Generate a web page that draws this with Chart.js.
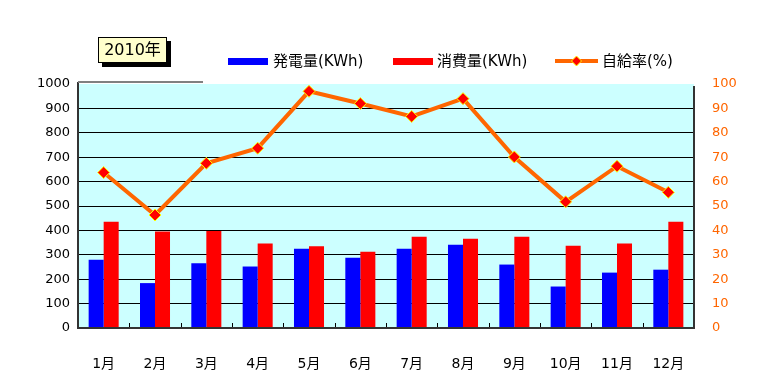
<!DOCTYPE html>
<html>
<head>
<meta charset="utf-8">
<script src="https://cdn.jsdelivr.net/npm/chart.js@4"></script>
<style>
  html, body { margin: 0; padding: 0; background: #fff; }
</style>
</head>
<body>
<canvas id="myChart" width="783" height="374"></canvas>
<script>
// data
const months = ['1月', '2月', '3月', '4月', '5月', '6月', '7月', '8月', '9月', '10月', '11月', '12月'];
const generation = [280, 184, 265, 252, 325, 288, 325, 341, 260, 170, 227, 239];   // 発電量(KWh)
const consumption = [435, 396, 398, 346, 335, 313, 374, 366, 374, 337, 346, 435];  // 消費量(KWh)
const selfRate = [63.7, 46.3, 67.5, 73.7, 97.0, 92.0, 86.7, 94.0, 70.1, 51.7, 66.3, 55.6]; // 自給率(%)
const titleText = '2010年';

const FONT = '"DejaVu Sans", "Noto Sans CJK JP", sans-serif';

// background, frame and little tick marks
const framePlugin = {
    id: 'frame',
    beforeDraw(chart) {
        const {ctx, chartArea: a} = chart;
        ctx.save();
        ctx.fillStyle = '#CCFFFF';
        ctx.fillRect(a.left, a.top, a.right - a.left, a.bottom - a.top);
        ctx.restore();
    },
    afterDatasetsDraw(chart) {
        const {ctx, chartArea: a} = chart;
        const x = chart.scales.x;
        ctx.save();
        // tick marks between months
        ctx.strokeStyle = '#000';
        ctx.lineWidth = 1;
        for (let i = 1; i < months.length; i++) {
            const px = Math.round((x.getPixelForValue(i - 1) + x.getPixelForValue(i)) / 2) + 0.5;
            ctx.beginPath();
            ctx.moveTo(px, a.bottom);
            ctx.lineTo(px, a.bottom - 5);
            ctx.stroke();
        }
        // frame
        ctx.strokeStyle = '#333';
        ctx.lineWidth = 2;
        ctx.beginPath();
        ctx.moveTo(a.left, a.top - 2);
        ctx.lineTo(a.left, a.bottom);
        ctx.lineTo(a.right, a.bottom);
        ctx.lineTo(a.right, a.top + 2);
        ctx.stroke();
        ctx.strokeStyle = '#808080';
        ctx.beginPath();
        ctx.moveTo(a.left, a.top - 2);
        ctx.lineTo(203, a.top - 2);
        ctx.stroke();
        ctx.restore();
    },
    afterDraw(chart) {
        const ctx = chart.ctx;
        const ds = chart.data.datasets;
        ctx.save();
        // title box
        ctx.fillStyle = '#000';
        ctx.fillRect(102, 41, 69, 26);
        ctx.fillStyle = '#FFFFCC';
        ctx.fillRect(98, 37, 69, 26);
        ctx.strokeStyle = '#000';
        ctx.lineWidth = 1;
        ctx.strokeRect(98.5, 37.5, 68, 25);
        ctx.fillStyle = '#000';
        ctx.font = '16px ' + FONT;
        ctx.textAlign = 'center';
        ctx.textBaseline = 'middle';
        ctx.fillText(titleText, 132.5, 51);

        // legend
        ctx.font = '15px ' + FONT;
        ctx.textAlign = 'left';
        const items = [
            {ds: ds[1], x: 228, w: 40, text: 273},
            {ds: ds[2], x: 393, w: 40, text: 437},
            {ds: ds[0], x: 555, w: 43, text: 602}
        ];
        items.forEach(it => {
            if (it.ds.type === 'line') {
                ctx.strokeStyle = it.ds.borderColor;
                ctx.lineWidth = 4;
                ctx.beginPath();
                ctx.moveTo(it.x, 61);
                ctx.lineTo(it.x + it.w, 61);
                ctx.stroke();
                const cx = it.x + it.w / 2;
                ctx.beginPath();
                ctx.moveTo(cx, 56);
                ctx.lineTo(cx + 5, 61);
                ctx.lineTo(cx, 66);
                ctx.lineTo(cx - 5, 61);
                ctx.closePath();
                ctx.fillStyle = it.ds.pointBackgroundColor;
                ctx.fill();
                ctx.strokeStyle = it.ds.pointBorderColor;
                ctx.lineWidth = 1;
                ctx.stroke();
            } else {
                ctx.fillStyle = it.ds.backgroundColor;
                ctx.fillRect(it.x, 58, it.w, 7);
            }
            ctx.fillStyle = '#000';
            ctx.fillText(it.ds.label, it.text, 62);
        });
        ctx.restore();
    }
};

new Chart(document.getElementById('myChart').getContext('2d'), {
    data: {
        labels: months,
        datasets: [
            {
                type: 'line',
                label: '自給率(%)',
                data: selfRate,
                yAxisID: 'y1',
                borderColor: '#FF6600',
                borderWidth: 4,
                tension: 0,
                pointStyle: 'rectRot',
                pointRadius: 6,
                pointBackgroundColor: '#FF0000',
                pointBorderColor: '#FFFF00',
                pointBorderWidth: 1,
                order: 0
            },
            {
                type: 'bar',
                label: '発電量(KWh)',
                data: generation,
                yAxisID: 'y',
                backgroundColor: '#0000FF',
                categoryPercentage: 0.585,
                barPercentage: 1,
                order: 1
            },
            {
                type: 'bar',
                label: '消費量(KWh)',
                data: consumption,
                yAxisID: 'y',
                backgroundColor: '#FF0000',
                categoryPercentage: 0.585,
                barPercentage: 1,
                order: 1
            }
        ]
    },
    options: {
        responsive: false,
        animation: false,
        devicePixelRatio: 1,
        layout: {padding: {top: 84, left: 0, right: 0, bottom: 0}},
        plugins: {
            legend: {display: false},
            tooltip: {enabled: false}
        },
        scales: {
            x: {
                grid: {display: false},
                border: {display: false},
                ticks: {color: '#000', font: {family: FONT, size: 14}, padding: 20, maxRotation: 0},
                afterFit(s) { s.height = 46; }
            },
            y: {
                position: 'left',
                min: 0,
                max: 1000,
                ticks: {
                    stepSize: 100,
                    color: '#000',
                    font: {family: FONT, size: 13},
                    padding: 8,
                    callback: v => String(v)
                },
                grid: {
                    drawTicks: false,
                    color: c => (c.tick && c.tick.value === 1000) ? 'rgba(0,0,0,0)' : '#000',
                    lineWidth: 1
                },
                border: {display: false},
                afterFit(s) { s.width = 78; }
            },
            y1: {
                position: 'right',
                min: 0,
                max: 100,
                ticks: {stepSize: 10, color: '#FF6600', font: {family: FONT, size: 13}, padding: 18},
                grid: {display: false, drawTicks: false},
                border: {display: false},
                afterFit(s) { s.width = 89; }
            }
        }
    },
    plugins: [framePlugin]
});
</script>
</body>
</html>
